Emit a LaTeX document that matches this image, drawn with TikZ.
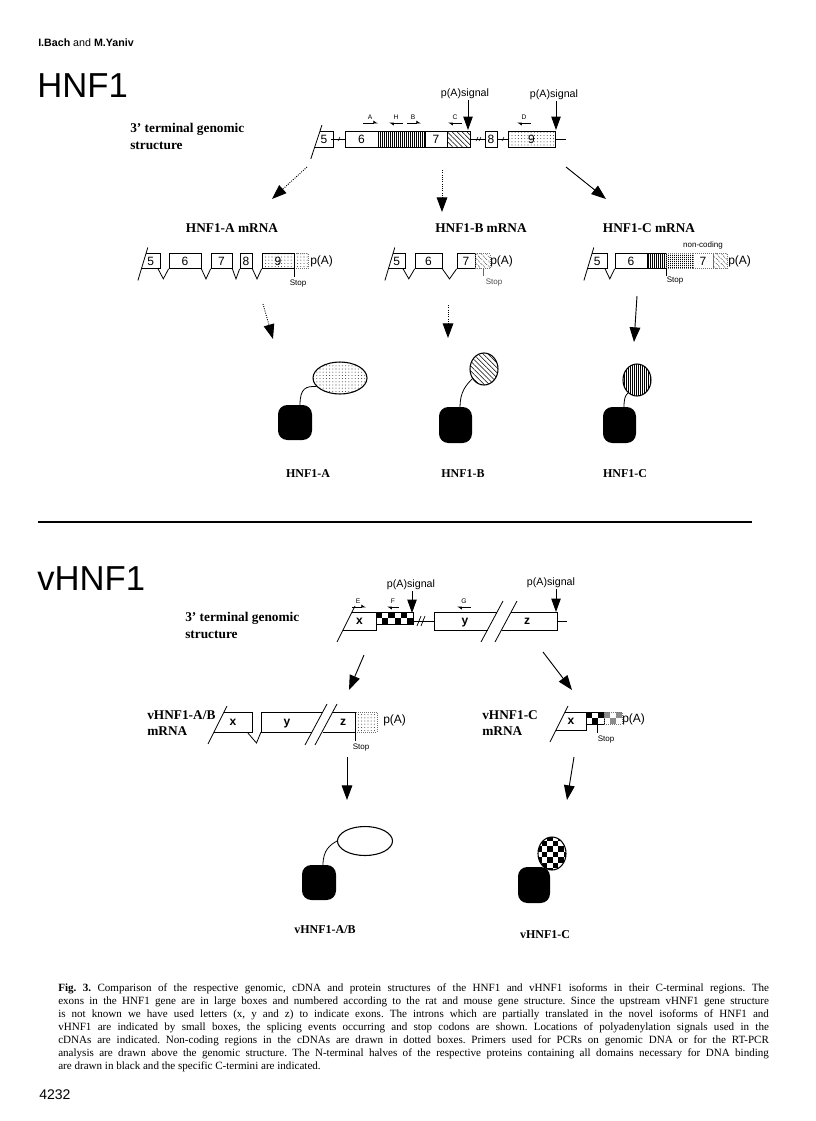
\documentclass[tikz,border=0pt]{standalone}
\usepackage{fontspec}
\setmainfont{Liberation Serif}
\setsansfont{Liberation Sans}
\usetikzlibrary{arrows.meta,patterns,patterns.meta,calc,shapes.geometric}

\newcommand\fs[1]{\fontsize{#1}{#1}\selectfont}

\tikzset{
  gl/.style={line width=0.6pt},
  ex/.style={draw, line width=0.6pt, fill=white, inner sep=0pt, font=\sffamily\fs{9}},
  exl/.style={font=\sffamily\bfseries\fs{9}, text height=6.5pt, text depth=1.5pt},
  dotfill/.style={pattern={Dots[distance=2.4pt,radius=0.4pt]}, pattern color=black!75},
  vhatch/.style={pattern={Lines[angle=90,distance=1.5pt,line width=0.45pt]}},
  dhatch/.style={pattern={Lines[angle=-45,distance=2.6pt,line width=0.4pt]}},
  noncod/.style={draw=black!55, densely dotted, line width=0.5pt},
  big/.style={line width=0.7pt, -{Triangle[width=8pt,length=11pt]}},
  bigfaint/.style={big, densely dotted},
  sig/.style={line width=0.7pt, -{Triangle[width=7pt,length=10pt]}},
  primer/.style={line width=0.5pt, -{Latex[left,length=3pt,width=4pt]}},
  plab/.style={font=\sffamily\fs{5}, inner sep=0pt},
  siglab/.style={font=\sffamily\fs{8}, inner sep=0pt},
  small/.style={font=\sffamily\fs{6}, inner sep=0pt},
  pa/.style={font=\sffamily\fs{9}, inner sep=0pt, anchor=west},
  lab/.style={font=\bfseries\fs{10}, inner sep=0pt},
  plabel/.style={font=\bfseries\fs{9}, inner sep=0pt},
  dna/.style={fill=black, rounded corners=7pt, inner sep=0pt},
  dom/.style={draw, line width=0.8pt, ellipse, inner sep=0pt},
}

% exon box: style, name, x1, x2, yc, h, text
\newcommand\exbox[7]{\node[ex,#1, minimum width={(#4-#3)*0.75pt}, minimum height={#6*0.75pt}] (#2) at ({(#3+#4)/2},#5) {#7};}
% slanted first box: name, x1(top-left), x2, yc, h, slope, text, font style
\newcommand\slbox[8]{%
  \pgfmathsetmacro\myT{#4-#5/2}\pgfmathsetmacro\myB{#4+#5/2}%
  \node[inner sep=0pt, font=\sffamily\fs{9}, #8, minimum width={(#3-#2)*0.75pt}, minimum height={#5*0.75pt}] (#1) at ({(#2+#3)/2-#6*#5/2},#4) {#7};
  \draw[gl] (#2,\myT) -- (#3,\myT) -- (#3,\myB) -- ({#2-#6*#5},\myB);
  \draw[gl] ({#2+#6*6},{\myT-6}) -- ({#2-#6*(#5+12)},{\myB+12});
}
% splice notch: from node a to node b, depth
\newcommand\notch[3]{\draw[gl] (#1.south east) -- ($(#1.south east)!.5!(#2.south west)+(0,#3)$) -- (#2.south west);}
% checker: x0, y0 (top-left), cols, rows, size, colour
\newcommand\checker[6]{%
  \foreach \ci in {1,...,#3}{\foreach \cj in {1,...,#4}{%
    \pgfmathtruncatemacro\cpar{mod(\ci+\cj,2)}%
    \ifnum\cpar=0 \fill[#6] ({#1+(\ci-1)*#5},{#2+(\cj-1)*#5}) rectangle ++(#5,#5);\fi}}}

\begin{document}
\begin{tikzpicture}[x=0.75pt,y=-0.75pt]
\useasboundingbox (0,0) rectangle (816,1121);

% ---------------- header ----------------
\node[anchor=base west, inner sep=0pt, font=\sffamily\fs{8}] (auth) at (38,46) {\textbf{I.Bach} and \textbf{M.Yaniv}};
\node[anchor=base west, inner sep=0pt, font=\sffamily\fs{26}] (t1) at (37,97) {HNF1};

% ---------------- HNF1 genomic ----------------
\node[lab, anchor=base west] (g1a) at (130,132) {3' terminal genomic};
\node[lab, anchor=base west] (g1b) at (130,149) {structure};

\slbox{g5}{320}{333}{139}{16}{0.33}{5}{}
\exbox{}{g6}{345}{378}{139}{16}{6}
\exbox{vhatch}{gH}{378}{425}{139}{16}{}
\exbox{}{g7}{425}{447}{139}{16}{7}
\exbox{dhatch}{gC}{447}{470}{139}{16}{}
\exbox{}{g8}{485}{497}{139}{16}{8}
\exbox{dotfill}{g9}{508}{555}{139}{16}{9}
\coordinate (gend) at (566,139);
\draw[gl] (g5.east) -- (g6.west);
\draw[gl] (gC.east) -- (g8.west);
\draw[gl] (g8.east) -- (g9.west);
\draw[gl] (g9.east) -- (gend);
\draw[line width=0.4pt] (338,141) -- (340,137) (476,141) -- (478,137) (479,141) -- (481,137) (502,141) -- (504,137);

% primers
\node[plab] (prA) at (370,117) {A};
\coordinate (prA1) at (363,123); \coordinate (prA2) at (378,123);
\draw[primer] (prA1) -- (prA2);
\node[plab] (prH) at (396,117) {H};
\coordinate (prH1) at (403,123); \coordinate (prH2) at (389,123);
\draw[primer] (prH1) -- (prH2);
\node[plab] (prB) at (413,117) {B};
\coordinate (prB1) at (407,123); \coordinate (prB2) at (421,123);
\draw[primer] (prB1) -- (prB2);
\node[plab] (prC) at (455,117) {C};
\coordinate (prC1) at (462,123); \coordinate (prC2) at (448,123);
\draw[primer] (prC1) -- (prC2);
\node[plab] (prD) at (524,117) {D};
\coordinate (prD1) at (531,123); \coordinate (prD2) at (517,123);
\draw[primer] (prD1) -- (prD2);

% p(A) signals
\node[siglab] (pa1) at (465,94) {p(A)signal};
\coordinate (pa1a) at (468,100); \coordinate (pa1b) at (468,130);
\draw[sig] (pa1a) -- (pa1b);
\node[siglab] (pa2) at (554,95) {p(A)signal};
\coordinate (pa2a) at (556,101); \coordinate (pa2b) at (556,130);
\draw[sig] (pa2a) -- (pa2b);

% arrows to mRNAs
\coordinate (aA1) at (307,167); \coordinate (aA2) at (272,199);
\draw[bigfaint] (aA1) -- (aA2);
\coordinate (aB1) at (442,170); \coordinate (aB2) at (442,212);
\draw[bigfaint] (aB1) -- (aB2);
\coordinate (aC1) at (566,167); \coordinate (aC2) at (606,199);
\draw[big] (aC1) -- (aC2);

% ---------------- HNF1 mRNAs ----------------
\node[lab] (mAl) at (232,228) {HNF1-A mRNA};
\node[lab] (mBl) at (481,228) {HNF1-B mRNA};
\node[lab] (mCl) at (649,228) {HNF1-C mRNA};

% A
\slbox{mA5}{146}{160}{261}{15}{0.3}{5}{}
\exbox{}{mA6}{169}{201}{261}{15}{6}
\exbox{}{mA7}{211}{232}{261}{15}{7}
\exbox{}{mA8}{240}{252}{261}{15}{8}
\node[noncod, dotfill, minimum width={14*0.75pt}, minimum height={15*0.75pt}, inner sep=0pt] (mAnc) at (301,261) {};
\exbox{dotfill}{mA9}{262}{294}{261}{15}{9}
\notch{mA5}{mA6}{10}
\notch{mA6}{mA7}{10}
\notch{mA7}{mA8}{10}
\notch{mA8}{mA9}{10}
\node[pa] (mApa) at (310,261) {p(A)};
\coordinate (mAs1) at (294,268); \coordinate (mAs2) at (294,277);
\draw[line width=0.5pt] (mAs1) -- (mAs2);
\node[small] (mAst) at (298,284) {Stop};

% B
\slbox{mB5}{393}{405}{261}{15}{0.3}{5}{}
\exbox{}{mB6}{415}{442}{261}{15}{6}
\exbox{}{mB7}{457}{475}{261}{15}{7}
\node[noncod, dhatch, minimum width={15*0.75pt}, minimum height={15*0.75pt}, inner sep=0pt] (mBnc) at (482.5,261) {};
\notch{mB5}{mB6}{10}
\notch{mB6}{mB7}{10}
\node[pa] (mBpa) at (490,261) {p(A)};
\coordinate (mBs1) at (483,268); \coordinate (mBs2) at (483,276);
\draw[line width=0.4pt, black!60] (mBs1) -- (mBs2);
\node[small, black!70] (mBst) at (494,283) {Stop};

% C
\slbox{mC5}{592}{607}{261}{15}{0.3}{5}{}
\exbox{}{mC6}{615}{647}{261}{15}{6}
\exbox{vhatch}{mCh}{647}{666}{261}{15}{}
\node[noncod, vhatch, minimum width={27*0.75pt}, minimum height={15*0.75pt}, inner sep=0pt] (mCnc) at (679.5,261) {};
\node[noncod, minimum width={20*0.75pt}, minimum height={15*0.75pt}, inner sep=0pt, font=\sffamily\fs{9}] (mC7) at (703,261) {7};
\node[noncod, dhatch, minimum width={14*0.75pt}, minimum height={15*0.75pt}, inner sep=0pt] (mCd) at (720,261) {};
\notch{mC5}{mC6}{10}
\node[pa] (mCpa) at (728,261) {p(A)};
\node[small] (mCnon) at (703,245) {non-coding};
\coordinate (mCs1) at (666,268); \coordinate (mCs2) at (666,276);
\draw[line width=0.5pt] (mCs1) -- (mCs2);
\node[small] (mCst) at (675,281) {Stop};

% arrows to proteins
\coordinate (pA1) at (263,304); \coordinate (pA2) at (273,339);
\draw[bigfaint] (pA1) -- (pA2);
\coordinate (pB1) at (448,305); \coordinate (pB2) at (448,338);
\draw[bigfaint] (pB1) -- (pB2);
\coordinate (pC1) at (637,296); \coordinate (pC2) at (634,342);
\draw[big] (pC1) -- (pC2);

% ---------------- HNF1 proteins ----------------
\node[dna, minimum width={34*0.75pt}, minimum height={35*0.75pt}] (sqA) at (295,422.5) {};
\node[dom, dotfill, minimum width={54*0.75pt}, minimum height={32*0.75pt}] (elA) at (340,378) {};
\draw[gl] (300,405) .. controls (300,388) and (306,386) .. (elA.200);
\node[dna, minimum width={33*0.75pt}, minimum height={36*0.75pt}] (sqB) at (455.5,425) {};
\node[dom, dhatch, minimum width={28*0.75pt}, minimum height={32*0.75pt}] (elB) at (484,369) {};
\draw[gl] (460,407) .. controls (460,392) and (466,385) .. (elB.220);
\node[dna, minimum width={33*0.75pt}, minimum height={36*0.75pt}] (sqC) at (619.5,425) {};
\node[dom, vhatch, minimum width={28*0.75pt}, minimum height={32*0.75pt}] (elC) at (637,380) {};
\draw[gl] (624,407) .. controls (624,399) and (625,396) .. (elC.235);

\node[plabel] (lA) at (308,474) {HNF1-A};
\node[plabel] (lB) at (463,474) {HNF1-B};
\node[plabel] (lC) at (625,474) {HNF1-C};

% separator
\coordinate (sep1) at (38,522); \coordinate (sep2) at (752,522);
\draw[line width=1.6pt] (sep1) -- (sep2);

% ---------------- vHNF1 ----------------
\node[anchor=base west, inner sep=0pt, font=\sffamily\fs{26}] (t2) at (37,590) {vHNF1};
\node[lab, anchor=base west] (g2a) at (185,621) {3' terminal genomic};
\node[lab, anchor=base west] (g2b) at (185,638) {structure};

\slbox{vx}{352}{376}{621}{18}{0.5}{x}{exl}
\checker{376}{612}{6}{2}{6.2}{black}
\node[draw, line width=0.6pt, minimum width={37*0.75pt}, minimum height={12.4*0.75pt}, inner sep=0pt] (vck) at (394.6,618.2) {};
\coordinate (vy0) at (434,621);
\draw[gl] (vck.east |- vy0) -- (vy0);
\draw[line width=0.5pt] (417,626) -- (421,616) (421,626) -- (425,616);
% box y and z with double slash
\node[inner sep=0pt, exl] (vy) at (465,621) {y};
\node[inner sep=0pt, exl] (vz) at (527,621) {z};
\draw[gl] (497,612) -- (434,612) -- (434,630) -- (488,630);
\draw[gl] (511,612) -- (557,612) -- (557,630) -- (502,630);
\draw[gl] (481,642) -- (503,601);
\draw[gl] (495,642) -- (517,601);
\coordinate (vend) at (567,621);
\draw[gl] (557,621) -- (vend);

% primers
\node[plab] (prE) at (358,601) {E};
\coordinate (prE1) at (352,607); \coordinate (prE2) at (366,607);
\draw[primer] (prE1) -- (prE2);
\node[plab] (prF) at (393,601) {F};
\coordinate (prF1) at (399,607); \coordinate (prF2) at (387,607);
\draw[primer] (prF1) -- (prF2);
\node[plab] (prG) at (464,601) {G};
\coordinate (prG1) at (471,607); \coordinate (prG2) at (457,607);
\draw[primer] (prG1) -- (prG2);

% p(A) signals
\node[siglab] (pa3) at (411,585) {p(A)signal};
\coordinate (pa3a) at (412,591); \coordinate (pa3b) at (412,613);
\draw[sig] (pa3a) -- (pa3b);
\node[siglab] (pa4) at (551,583) {p(A)signal};
\coordinate (pa4a) at (556,589); \coordinate (pa4b) at (556,612);
\draw[sig] (pa4a) -- (pa4b);

% arrows to mRNAs
\coordinate (vaA1) at (364,655); \coordinate (vaA2) at (349,690);
\draw[big] (vaA1) -- (vaA2);
\coordinate (vaC1) at (543,652); \coordinate (vaC2) at (572,690);
\draw[big] (vaC1) -- (vaC2);

% vHNF1-A/B mRNA
\node[lab, anchor=base west] (vmAl1) at (147,719) {vHNF1-A/B};
\node[lab, anchor=base west] (vmAl2) at (147,735) {mRNA};
\slbox{vmx}{224}{252}{722}{20}{0.5}{x}{exl}
\node[inner sep=0pt, minimum height={20*0.75pt}, minimum width={20*0.75pt}, exl] (vmy) at (287,722) {y};
\draw[gl] (322,712) -- (261,712) -- (261,732) -- (312,732);
\draw[gl] (vmx.south east) -- (256.5,743) -- (261,732);
\draw[gl] (305,745) -- (327,704);
\draw[gl] (315,745) -- (337,704);
\node[noncod, dotfill, minimum width={22*0.75pt}, minimum height={20*0.75pt}, inner sep=0pt] (vmnc) at (366,722) {};
\node[inner sep=0pt, exl] (vmz) at (343,722) {z};
\draw[gl] (333,712) -- (355,712) -- (355,732) -- (323,732);
\node[pa] (vmApa) at (383,720) {p(A)};
\coordinate (vms1) at (355,732); \coordinate (vms2) at (355,741);
\draw[line width=0.5pt] (vms1) -- (vms2);
\node[small] (vmst) at (361,748) {Stop};

% vHNF1-C mRNA
\node[lab, anchor=base west] (vmCl1) at (482,719) {vHNF1-C};
\node[lab, anchor=base west] (vmCl2) at (482,735) {mRNA};
\slbox{vcx}{565}{586}{721}{18}{0.5}{x}{exl}
\checker{586}{712}{3}{2}{6}{black}
\node[draw, line width=0.6pt, minimum width={18*0.75pt}, minimum height={12*0.75pt}, inner sep=0pt] (vcck) at (595,718) {};
\checker{604}{712}{3}{2}{6}{black!45}
\node[noncod, minimum width={18*0.75pt}, minimum height={12*0.75pt}, inner sep=0pt] (vcnc) at (613,718) {};
\node[pa] (vmCpa) at (622,719) {p(A)};
\coordinate (vcs1) at (597,724); \coordinate (vcs2) at (597,733);
\draw[line width=0.5pt] (vcs1) -- (vcs2);
\node[small] (vcst) at (606,740) {Stop};

% arrows to proteins
\coordinate (vpA1) at (347,757); \coordinate (vpA2) at (347,800);
\draw[big] (vpA1) -- (vpA2);
\coordinate (vpC1) at (574,757); \coordinate (vpC2) at (567,800);
\draw[big] (vpC1) -- (vpC2);

% vHNF1 proteins
\node[dna, minimum width={34*0.75pt}, minimum height={35*0.75pt}] (vsqA) at (319,882.5) {};
\node[dom, fill=white, minimum width={55*0.75pt}, minimum height={29*0.75pt}] (velA) at (365,841) {};
\draw[gl] (323,865) .. controls (323,850) and (330,845) .. (velA.west);
\node[dna, minimum width={32*0.75pt}, minimum height={36*0.75pt}] (vsqC) at (534,885) {};
\begin{scope}
  \clip (552,853.5) ellipse [x radius=14, y radius=16.5];
  \fill[white] (552,853.5) ellipse [x radius=14, y radius=16.5];
  \checker{536}{835}{6}{7}{5.5}{black}
\end{scope}
\node[dom, minimum width={28*0.75pt}, minimum height={33*0.75pt}] (velC) at (552,853.5) {};

\node[plabel] (vlA) at (325,930) {vHNF1-A/B};
\node[plabel] (vlC) at (545,935) {vHNF1-C};

% ---------------- caption ----------------
\node[anchor=north west, inner sep=0pt] (cap) at (58,983) {\begin{minipage}{533pt}\fontsize{8.3}{9.75}\selectfont\frenchspacing
\hbox to\hsize{\textbf{Fig. 3.} Comparison of the respective genomic, cDNA and protein structures of the HNF1 and vHNF1 isoforms in their C-terminal regions. The}
\hbox to\hsize{exons in the HNF1 gene are in large boxes and numbered according to the rat and mouse gene structure. Since the upstream vHNF1 gene structure}
\hbox to\hsize{is not known we have used letters (x, y and z) to indicate exons. The introns which are partially translated in the novel isoforms of HNF1 and}
\hbox to\hsize{vHNF1 are indicated by small boxes, the splicing events occurring and stop codons are shown. Locations of polyadenylation signals used in the}
\hbox to\hsize{cDNAs are indicated. Non-coding regions in the cDNAs are drawn in dotted boxes. Primers used for PCRs on genomic DNA or for the RT-PCR}
\hbox to\hsize{analysis are drawn above the genomic structure. The N-terminal halves of the respective proteins containing all domains necessary for DNA binding}
\hbox{are drawn in black and the specific C-termini are indicated.}
\end{minipage}};

\node[anchor=base west, inner sep=0pt, font=\sffamily\fs{10.5}] (pg) at (39,1099) {4232};
\end{tikzpicture}
\end{document}
